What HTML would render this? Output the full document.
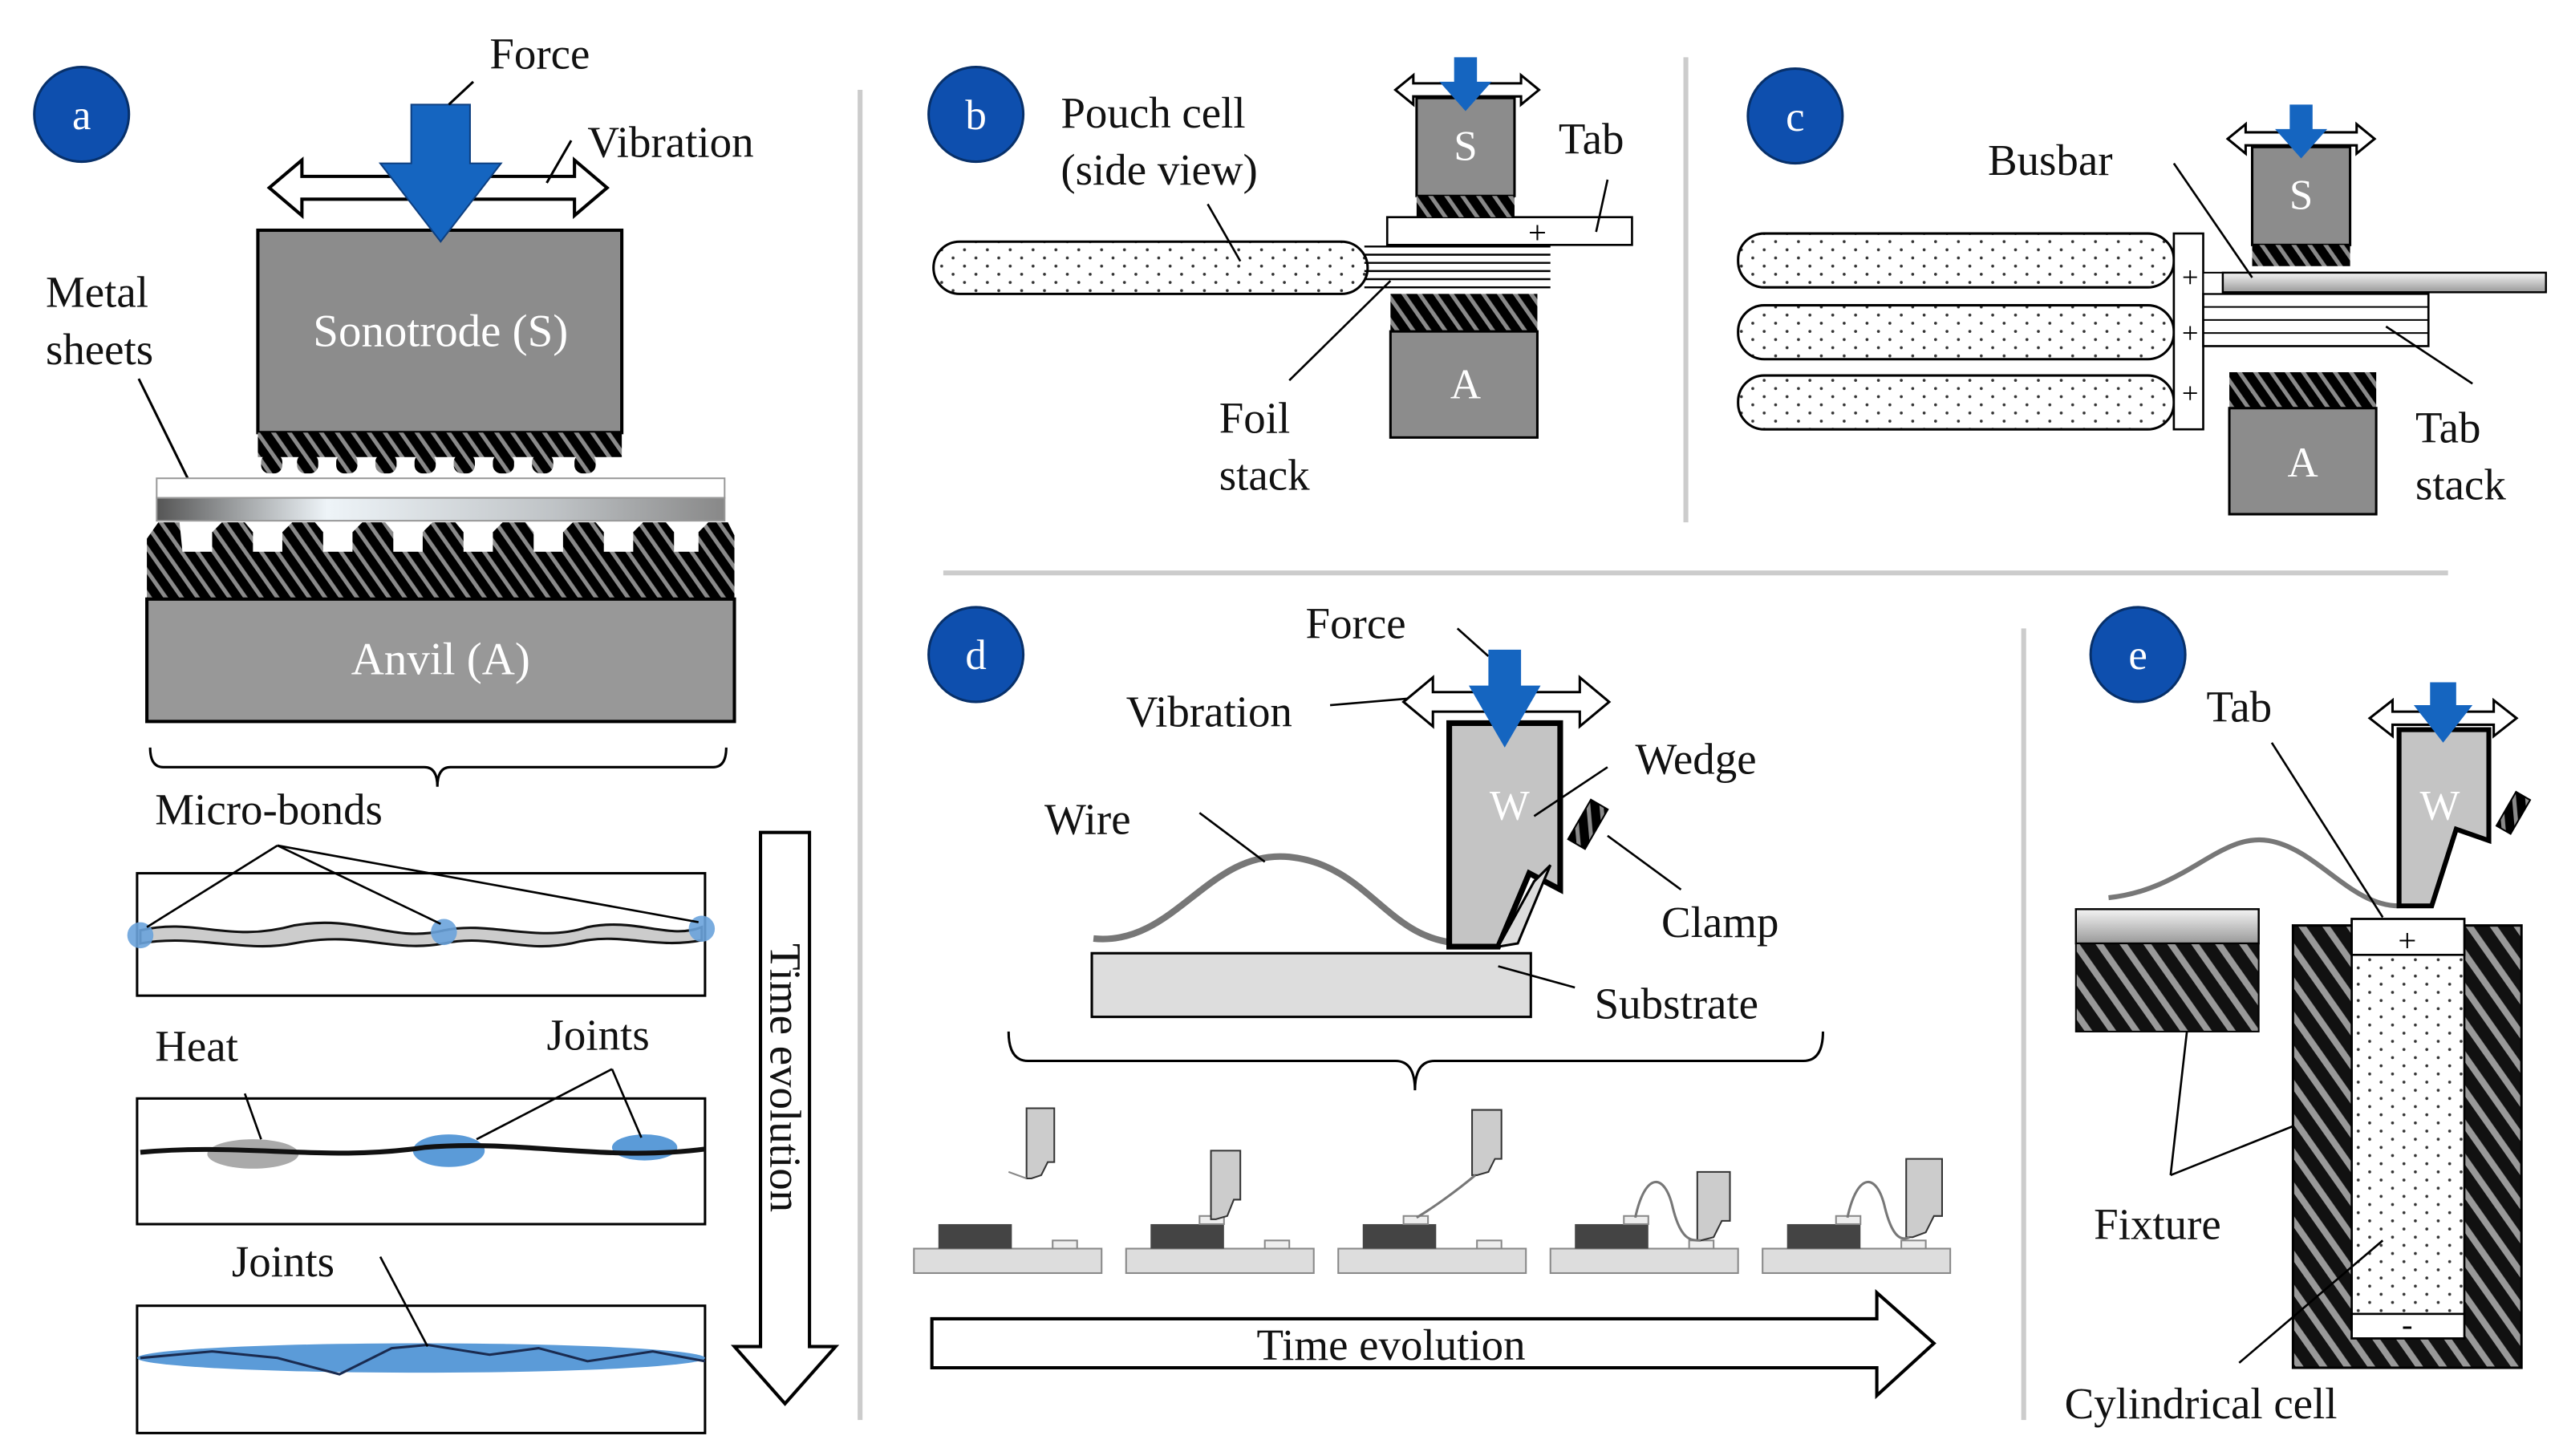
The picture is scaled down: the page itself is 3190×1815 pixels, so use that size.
<!DOCTYPE html>
<html><head><meta charset="utf-8"><style>
html,body{margin:0;padding:0;background:#fff;}
svg{display:block;}
text{font-family:"Liberation Serif",serif;}
</style></head><body>
<svg width="3190" height="1815" viewBox="0 0 1568 892" xmlns="http://www.w3.org/2000/svg">
<defs>
<pattern id="hatch" width="8" height="8" patternUnits="userSpaceOnUse" patternTransform="rotate(-35)">
<rect width="8" height="8" fill="#000"/><rect x="0" width="2.5" height="8" fill="#8a8a8a"/>
</pattern>
<pattern id="hatch2" width="12" height="12" patternUnits="userSpaceOnUse" patternTransform="rotate(-35)">
<rect width="12" height="12" fill="#111"/><rect x="0" width="4" height="12" fill="#999"/>
</pattern>
<pattern id="dots" width="14" height="10" patternUnits="userSpaceOnUse">
<rect width="14" height="10" fill="#fff"/><circle cx="3" cy="3" r="0.9" fill="#333"/><circle cx="10" cy="8" r="0.9" fill="#333"/>
</pattern>
<linearGradient id="metal" x1="0" x2="1">
<stop offset="0" stop-color="#555"/><stop offset="0.3" stop-color="#eef4f8"/><stop offset="0.7" stop-color="#bfc3c6"/><stop offset="1" stop-color="#888"/>
</linearGradient>
<linearGradient id="vmetal" x1="0" y1="0" x2="0" y2="1">
<stop offset="0" stop-color="#f4f4f4"/><stop offset="1" stop-color="#999"/>
</linearGradient>
</defs>
<rect width="1568" height="892" fill="#fff"/>

<!-- separators -->
<line x1="527" y1="55" x2="527" y2="870" stroke="#ccc" stroke-width="3"/>
<line x1="1033" y1="35" x2="1033" y2="320" stroke="#ccc" stroke-width="3"/>
<line x1="578" y1="351" x2="1500" y2="351" stroke="#ccc" stroke-width="3"/>
<line x1="1240" y1="385" x2="1240" y2="870" stroke="#ccc" stroke-width="3"/>

<!-- circles -->
<g fill="#0e4fae" stroke="#07306a" stroke-width="1.5">
<circle cx="50" cy="70" r="29"/><circle cx="598" cy="70" r="29"/><circle cx="1100" cy="71" r="29"/>
<circle cx="598" cy="401" r="29"/><circle cx="1310" cy="401" r="29"/>
</g>
<g fill="#fff" font-size="26" text-anchor="middle">
<text x="50" y="79">a</text><text x="598" y="79">b</text><text x="1100" y="80">c</text><text x="598" y="410">d</text><text x="1310" y="410">e</text>
</g>

<!-- ===== panel a ===== -->
<path d="M165,115 L185,98 L185,108 L352,108 L352,98 L372,115 L352,132 L352,122 L185,122 L185,132 Z" fill="#fff" stroke="#000" stroke-width="2"/>
<rect x="158" y="141" width="223" height="124" fill="#8c8c8c" stroke="#000" stroke-width="2"/>
<text x="270" y="212" font-size="28" fill="#fff" text-anchor="middle">Sonotrode (S)</text>
<rect x="158" y="265" width="223" height="15" fill="url(#hatch)"/>
<g fill="url(#hatch)">
<rect x="160" y="278" width="13" height="12" rx="5"/><rect x="182" y="278" width="13" height="12" rx="5"/><rect x="206" y="278" width="13" height="12" rx="5"/><rect x="230" y="278" width="13" height="12" rx="5"/><rect x="254" y="278" width="13" height="12" rx="5"/><rect x="278" y="278" width="13" height="12" rx="5"/><rect x="302" y="278" width="13" height="12" rx="5"/><rect x="326" y="278" width="13" height="12" rx="5"/><rect x="352" y="278" width="13" height="12" rx="5"/>
</g>
<polygon points="252,64 288,64 288,100 307,100 270,148 233,100 252,100" fill="#1565c0" stroke="#0d3f80" stroke-width="1"/>
<line x1="290" y1="50" x2="275" y2="64" stroke="#000" stroke-width="1.5"/>
<line x1="350" y1="86" x2="335" y2="112" stroke="#000" stroke-width="1.5"/>
<line x1="85" y1="232" x2="115" y2="293" stroke="#000" stroke-width="1.5"/>
<rect x="96" y="293" width="348" height="12" fill="#fff" stroke="#999"/>
<rect x="96" y="305" width="348" height="14" fill="url(#metal)" stroke="#999"/>
<g fill="url(#hatch)">
<path d="M90,340 L90,330 L97,320 L110,320 L112,340 Z"/>
<path d="M130,340 L130,326 L136,320 L150,320 L155,326 L155,340Z"/>
<path d="M173,340 L173,326 L179,320 L193,320 L198,326 L198,340Z"/>
<path d="M216,340 L216,326 L222,320 L236,320 L241,326 L241,340Z"/>
<path d="M259,340 L259,326 L265,320 L279,320 L284,326 L284,340Z"/>
<path d="M302,340 L302,326 L308,320 L322,320 L327,326 L327,340Z"/>
<path d="M345,340 L345,326 L351,320 L365,320 L370,326 L370,340Z"/>
<path d="M388,340 L388,326 L394,320 L408,320 L413,326 L413,340Z"/>
<path d="M428,340 L428,326 L434,320 L446,320 L450,328 L450,340Z"/>
<rect x="90" y="338" width="360" height="29"/>
</g>
<rect x="90" y="367" width="360" height="75" fill="#989898" stroke="#000" stroke-width="2"/>
<text x="270" y="413" font-size="28" fill="#fff" text-anchor="middle">Anvil (A)</text>
<path d="M92,458 Q92,470 100,470 L260,470 Q268,470 268,482 Q268,470 276,470 L437,470 Q445,470 445,458" fill="none" stroke="#000" stroke-width="1.5"/>
<!-- box 1 -->
<rect x="84" y="535" width="348" height="75" fill="#fff" stroke="#000" stroke-width="1.5"/>
<path d="M86,570 C120,562 140,578 180,567 C220,560 240,578 272,570 C300,564 330,578 360,568 C390,562 410,576 430,568 L430,576 C400,582 380,570 350,578 C320,584 300,572 272,578 C240,584 220,570 180,578 C150,584 120,572 86,578 Z" fill="#ccc" stroke="#111" stroke-width="1.5"/>
<g fill="#6aa3dc" opacity="0.9"><circle cx="86" cy="573" r="8"/><circle cx="272" cy="571" r="8"/><circle cx="430" cy="569" r="8"/></g>
<g stroke="#000" stroke-width="1.3"><line x1="170" y1="518" x2="90" y2="568"/><line x1="170" y1="518" x2="270" y2="566"/><line x1="170" y1="518" x2="428" y2="565"/></g>
<!-- box 2 -->
<rect x="84" y="673" width="348" height="77" fill="#fff" stroke="#000" stroke-width="1.5"/>
<ellipse cx="155" cy="707" rx="28" ry="9" fill="#aaa"/>
<ellipse cx="275" cy="705" rx="22" ry="10" fill="#5b9bd8"/>
<ellipse cx="395" cy="703" rx="20" ry="8" fill="#5b9bd8"/>
<path d="M86,706 C150,700 200,712 260,703 C320,698 370,712 432,704" fill="none" stroke="#111" stroke-width="3"/>
<g stroke="#000" stroke-width="1.3"><line x1="150" y1="670" x2="160" y2="698"/><line x1="375" y1="655" x2="292" y2="698"/><line x1="375" y1="655" x2="393" y2="697"/></g>
<!-- box 3 -->
<rect x="84" y="800" width="348" height="78" fill="#fff" stroke="#000" stroke-width="1.5"/>
<ellipse cx="258" cy="832" rx="174" ry="9" fill="#5b9bd8"/>
<path d="M86,832 L130,828 L170,832 L208,842 L240,826 L262,824 L300,830 L330,826 L360,834 L400,828 L432,834" fill="none" stroke="#1a2b50" stroke-width="1.5"/>
<line x1="233" y1="770" x2="262" y2="825" stroke="#000" stroke-width="1.3"/>
<!-- time arrow down -->
<path d="M466,510 L496,510 L496,825 L512,825 L481,860 L450,825 L466,825 Z" fill="#fff" stroke="#000" stroke-width="2"/>
<text transform="translate(472,578) rotate(90)" font-size="27" fill="#111">Time evolution</text>

<!-- ===== panel b ===== -->
<rect x="572" y="148" width="266" height="32" rx="16" fill="url(#dots)" stroke="#000" stroke-width="1.5"/>
<g stroke="#000" stroke-width="1.2"><line x1="836" y1="151" x2="950" y2="151"/><line x1="836" y1="156" x2="950" y2="156"/><line x1="836" y1="161" x2="950" y2="161"/><line x1="836" y1="166" x2="950" y2="166"/><line x1="836" y1="171" x2="950" y2="171"/><line x1="836" y1="176" x2="950" y2="176"/></g>
<rect x="850" y="133" width="150" height="17" fill="#fff" stroke="#000" stroke-width="1.3"/>
<text x="942" y="149" font-size="20" text-anchor="middle">+</text>
<rect x="868" y="60" width="60" height="60" fill="#8c8c8c" stroke="#000" stroke-width="1.5"/>
<text x="898" y="98" font-size="26" fill="#fff" text-anchor="middle">S</text>
<rect x="868" y="120" width="60" height="13" fill="url(#hatch)"/>
<path d="M855,55 L866,46 L866,51 L932,51 L932,46 L943,55 L932,64 L932,59 L866,59 L866,64 Z" fill="#fff" stroke="#000" stroke-width="1.5"/>
<polygon points="891,35 905,35 905,50 914,50 898,68 882,50 891,50" fill="#1565c0"/>
<rect x="852" y="180" width="90" height="23" fill="url(#hatch)"/>
<rect x="852" y="203" width="90" height="65" fill="#8c8c8c" stroke="#000" stroke-width="1.5"/>
<text x="898" y="244" font-size="26" fill="#fff" text-anchor="middle">A</text>
<g stroke="#000" stroke-width="1.3"><line x1="985" y1="110" x2="978" y2="142"/><line x1="790" y1="233" x2="852" y2="172"/><line x1="740" y1="125" x2="760" y2="160"/></g>

<!-- ===== panel c ===== -->
<rect x="1065" y="143" width="267" height="33" rx="16" fill="url(#dots)" stroke="#000" stroke-width="1.5"/>
<rect x="1065" y="187" width="267" height="33" rx="16" fill="url(#dots)" stroke="#000" stroke-width="1.5"/>
<rect x="1065" y="230" width="267" height="33" rx="16" fill="url(#dots)" stroke="#000" stroke-width="1.5"/>
<rect x="1332" y="143" width="18" height="120" fill="#fff" stroke="#000" stroke-width="1.3"/>
<g font-size="18" text-anchor="middle"><text x="1342" y="176">+</text><text x="1342" y="210">+</text><text x="1342" y="247">+</text></g>
<rect x="1350" y="180" width="138" height="32" fill="#fff" stroke="#000" stroke-width="1.3"/>
<g stroke="#000" stroke-width="1"><line x1="1350" y1="188" x2="1488" y2="188"/><line x1="1350" y1="196" x2="1488" y2="196"/><line x1="1350" y1="204" x2="1488" y2="204"/></g>
<rect x="1350" y="167" width="12" height="13" fill="#fff" stroke="#000"/>
<rect x="1362" y="167" width="198" height="12" fill="url(#vmetal)" stroke="#000" stroke-width="1.2"/>
<rect x="1380" y="90" width="60" height="60" fill="#8c8c8c" stroke="#000" stroke-width="1.5"/>
<text x="1410" y="128" font-size="26" fill="#fff" text-anchor="middle">S</text>
<rect x="1380" y="150" width="60" height="13" fill="url(#hatch)"/>
<path d="M1365,85 L1376,76 L1376,81 L1444,81 L1444,76 L1455,85 L1444,94 L1444,89 L1376,89 L1376,94 Z" fill="#fff" stroke="#000" stroke-width="1.5"/>
<polygon points="1403,64 1417,64 1417,79 1426,79 1410,97 1394,79 1403,79" fill="#1565c0"/>
<rect x="1366" y="228" width="90" height="22" fill="url(#hatch)"/>
<rect x="1366" y="250" width="90" height="65" fill="#8c8c8c" stroke="#000" stroke-width="1.5"/>
<text x="1411" y="292" font-size="26" fill="#fff" text-anchor="middle">A</text>
<g stroke="#000" stroke-width="1.3"><line x1="1332" y1="100" x2="1380" y2="170"/><line x1="1462" y1="200" x2="1515" y2="235"/></g>

<!-- ===== panel d ===== -->
<path d="M860,430 L878,415 L878,424 L968,424 L968,415 L986,430 L968,445 L968,436 L878,436 L878,445 Z" fill="#fff" stroke="#000" stroke-width="1.5"/>
<line x1="893" y1="385" x2="912" y2="402" stroke="#000" stroke-width="1.3"/>
<line x1="815" y1="432" x2="862" y2="428" stroke="#000" stroke-width="1.3"/>
<rect x="669" y="584" width="269" height="39" fill="#ddd" stroke="#000" stroke-width="1.5"/>
<path d="M670,575 C720,580 740,520 790,525 C840,530 850,578 898,578" fill="none" stroke="#777" stroke-width="4"/>
<polygon points="888,443 956,443 956,545 937,535 918,580 888,580" fill="#c4c4c4" stroke="#000" stroke-width="3.5"/>
<polygon points="940,540 950,530 930,578 918,580" fill="#ddd" stroke="#000" stroke-width="1.5"/>
<text x="925" y="502" font-size="26" fill="#fff" text-anchor="middle">W</text>
<g transform="translate(973,505) rotate(30)"><rect x="-6" y="-14" width="12" height="28" fill="url(#hatch)" stroke="#000"/></g>
<polygon points="912,398 932,398 932,420 944,420 922,458 900,420 912,420" fill="#1565c0"/>
<g stroke="#000" stroke-width="1.3"><line x1="985" y1="470" x2="940" y2="500"/><line x1="1030" y1="545" x2="985" y2="512"/><line x1="965" y1="605" x2="918" y2="592"/><line x1="735" y1="498" x2="775" y2="528"/></g>
<path d="M618,632 Q618,650 630,650 L855,650 Q867,650 867,668 Q867,650 879,650 L1105,650 Q1117,650 1117,632" fill="none" stroke="#000" stroke-width="1.5"/>
<!-- mini scenes -->
<g>
<g transform="translate(560,0)">
<rect x="0" y="765" width="115" height="15" fill="#ddd" stroke="#888"/><rect x="15" y="750" width="45" height="15" fill="#444"/><rect x="85" y="760" width="15" height="5" fill="#eee" stroke="#888"/>
<polygon points="69,679 86,679 86,712 82,712 78,720 72,722 69,722" fill="#ccc" stroke="#333"/><path d="M69,722 L58,718" fill="none" stroke="#888"/>
</g>
<g transform="translate(690,0)">
<rect x="0" y="765" width="115" height="15" fill="#ddd" stroke="#888"/><rect x="15" y="750" width="45" height="15" fill="#444"/><rect x="45" y="745" width="15" height="5" fill="#eee" stroke="#888"/><rect x="85" y="760" width="15" height="5" fill="#eee" stroke="#888"/>
<polygon points="52,705 70,705 70,735 66,735 62,745 55,747 52,747" fill="#ccc" stroke="#333"/>
</g>
<g transform="translate(820,0)">
<rect x="0" y="765" width="115" height="15" fill="#ddd" stroke="#888"/><rect x="15" y="750" width="45" height="15" fill="#444"/><rect x="40" y="745" width="15" height="5" fill="#eee" stroke="#888"/><rect x="85" y="760" width="15" height="5" fill="#eee" stroke="#888"/>
<polygon points="82,680 100,680 100,710 96,710 92,718 85,720 82,720" fill="#ccc" stroke="#333"/><path d="M84,720 C72,730 58,740 48,746" fill="none" stroke="#777" stroke-width="1.5"/>
</g>
<g transform="translate(950,0)">
<rect x="0" y="765" width="115" height="15" fill="#ddd" stroke="#888"/><rect x="15" y="750" width="45" height="15" fill="#444"/><rect x="45" y="745" width="15" height="5" fill="#eee" stroke="#888"/><rect x="85" y="760" width="15" height="5" fill="#eee" stroke="#888"/>
<polygon points="90,718 110,718 110,748 105,748 100,758 92,760 90,760" fill="#ccc" stroke="#333"/><path d="M52,746 C58,718 70,718 75,740 C80,760 86,760 92,760" fill="none" stroke="#777" stroke-width="1.5"/>
</g>
<g transform="translate(1080,0)">
<rect x="0" y="765" width="115" height="15" fill="#ddd" stroke="#888"/><rect x="15" y="750" width="45" height="15" fill="#444"/><rect x="45" y="745" width="15" height="5" fill="#eee" stroke="#888"/><rect x="85" y="760" width="15" height="5" fill="#eee" stroke="#888"/>
<polygon points="88,710 110,710 110,745 105,745 100,755 92,758 88,758" fill="#ccc" stroke="#333"/><path d="M52,746 C58,718 70,718 75,740 C80,760 86,760 90,758" fill="none" stroke="#777" stroke-width="1.5"/>
</g>
</g>
<path d="M571,808 L1150,808 L1150,792 L1185,823 L1150,855 L1150,838 L571,838 Z" fill="#fff" stroke="#000" stroke-width="2"/>

<!-- ===== panel e ===== -->
<rect x="1272" y="557" width="112" height="21" fill="url(#vmetal)" stroke="#000" stroke-width="1.2"/>
<rect x="1272" y="578" width="112" height="54" fill="url(#hatch2)" stroke="#000"/>
<rect x="1405" y="567" width="140" height="271" fill="url(#hatch2)" stroke="#000" stroke-width="1.5"/>
<rect x="1441" y="563" width="69" height="257" fill="url(#dots)" stroke="#000" stroke-width="1.3"/>
<rect x="1441" y="563" width="69" height="22" fill="#fff" stroke="#000" stroke-width="1.3"/>
<text x="1475" y="583" font-size="20" text-anchor="middle">+</text>
<rect x="1441" y="805" width="69" height="15" fill="#fff" stroke="#000" stroke-width="1.3"/>
<text x="1475" y="818" font-size="20" text-anchor="middle">-</text>
<path d="M1292,550 C1340,545 1360,510 1390,515 C1420,520 1440,555 1470,555" fill="none" stroke="#777" stroke-width="3"/>
<polygon points="1470,447 1525,447 1525,515 1505,508 1490,555 1470,555" fill="#c4c4c4" stroke="#000" stroke-width="3"/>
<text x="1495" y="502" font-size="26" fill="#fff" text-anchor="middle">W</text>
<g transform="translate(1540,498) rotate(30)"><rect x="-5" y="-12" width="10" height="24" fill="url(#hatch)" stroke="#000"/></g>
<path d="M1452,440 L1466,429 L1466,436 L1528,436 L1528,429 L1542,440 L1528,451 L1528,444 L1466,444 L1466,451 Z" fill="#fff" stroke="#000" stroke-width="1.5"/>
<polygon points="1489,418 1505,418 1505,432 1515,432 1497,455 1479,432 1489,432" fill="#1565c0"/>
<g stroke="#000" stroke-width="1.3"><line x1="1392" y1="455" x2="1460" y2="562"/><line x1="1330" y1="720" x2="1340" y2="632"/><line x1="1330" y1="720" x2="1405" y2="690"/><line x1="1372" y1="835" x2="1460" y2="760"/></g>

<!-- labels on top -->
<g font-size="27" fill="#111">
<text x="300" y="42">Force</text>
<text x="360" y="96">Vibration</text>
<text x="28" y="188">Metal</text><text x="28" y="223">sheets</text>
<text x="95" y="505">Micro-bonds</text>
<text x="95" y="650">Heat</text>
<text x="335" y="643">Joints</text>
<text x="142" y="782">Joints</text>
<text x="650" y="78">Pouch cell</text><text x="650" y="113">(side view)</text>
<text x="955" y="94">Tab</text>
<text x="747" y="265">Foil</text><text x="747" y="300">stack</text>
<text x="1218" y="107">Busbar</text>
<text x="1480" y="271">Tab</text><text x="1480" y="306">stack</text>
<text x="800" y="391">Force</text>
<text x="690" y="445">Vibration</text>
<text x="640" y="511">Wire</text>
<text x="1002" y="474">Wedge</text>
<text x="1018" y="574">Clamp</text>
<text x="977" y="624">Substrate</text>
<text x="770" y="833">Time evolution</text>
<text x="1352" y="442">Tab</text>
<text x="1283" y="759">Fixture</text>
<text x="1265" y="869">Cylindrical cell</text>
</g>
</svg>
</body></html>
